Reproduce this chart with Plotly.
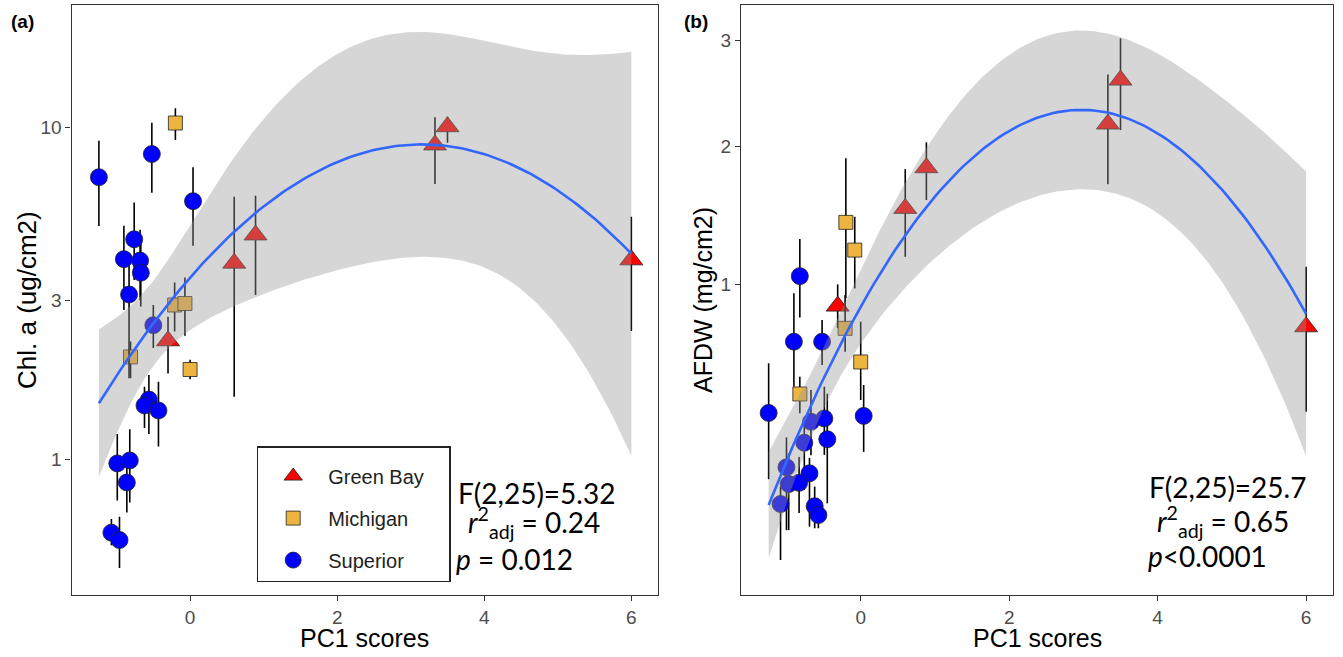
import numpy as np
import plotly.graph_objects as go

# ---------------- data : panel (a)  Chl. a (ug/cm2) ----------------
a_gb_x   = [-0.30, 0.60, 0.89, 3.33, 3.50, 6.00]
a_gb_y   = [2.27, 3.89, 4.73, 8.83, 10.02, 3.98]
a_gb_hi  = [2.68, 6.17, 6.21, 10.70, 10.74, 5.37]
a_gb_lo  = [1.81, 1.54, 3.12, 6.73, 8.97, 2.43]

a_mi_x   = [-0.20, -0.21, -0.07, -0.81, 0.00]
a_mi_y   = [10.28, 2.91, 2.94, 2.03, 1.86]
a_mi_hi  = [11.39, 3.40, 3.52, 2.26, 1.99]
a_mi_lo  = [9.14, 2.42, 2.35, 1.75, 1.74]

a_su_x   = [-1.24, -0.52, 0.04, -0.76, -0.90, -0.68, -0.67, -0.83, -0.50,
            -0.56, -0.62, -0.43, -0.99, -0.82, -0.86, -1.07, -0.96]
a_su_y   = [7.06, 8.29, 5.98, 4.59, 4.00, 3.96, 3.64, 3.13, 2.53,
            1.51, 1.45, 1.40, 0.97, 0.99, 0.85, 0.60, 0.57]
a_su_hi  = [9.09, 10.30, 7.56, 5.92, 5.04, 4.90, 4.57, 3.92, 2.91,
            1.79, 1.65, 1.71, 1.19, 1.23, 0.99, 0.66, 0.67]
a_su_lo  = [5.03, 6.34, 4.39, 3.46, 2.81, 3.01, 2.88, 1.75, 2.16,
            1.19, 1.24, 1.09, 0.75, 0.74, 0.69, 0.55, 0.47]

# ---------------- data : panel (b)  AFDW (mg/cm2) ----------------
b_gb_x   = [-0.31, 0.60, 0.885, 3.33, 3.50, 6.00]
b_gb_y   = [0.875, 1.508, 1.822, 2.192, 2.599, 0.763]
b_gb_hi  = [1.001, 1.811, 2.033, 2.654, 3.017, 1.109]
b_gb_lo  = [0.757, 1.173, 1.570, 1.690, 2.139, 0.383]

b_mi_x   = [-0.20, -0.08, -0.21, 0.00, -0.82]
b_mi_y   = [1.407, 1.217, 0.755, 0.590, 0.452]
b_mi_hi  = [1.899, 1.447, 0.938, 0.790, 0.524]
b_mi_lo  = [0.919, 0.977, 0.638, 0.428, 0.378]

b_su_x   = [-1.24, -0.82, -0.90, -0.52, -0.67, -0.49, 0.04, -0.76,
            -0.45, -1.00, -0.69, -0.97, -0.83, -1.08, -0.62, -0.57]
b_su_y   = [0.379, 1.051, 0.687, 0.687, 0.347, 0.359, 0.368, 0.277,
            0.288, 0.205, 0.189, 0.162, 0.165, 0.1175, 0.113, 0.096]
b_su_hi  = [0.584, 1.291, 0.948, 0.799, 0.468, 0.482, 0.489, 0.361,
            0.453, 0.294, 0.231, 0.245, 0.234, 0.156, 0.156, 0.126]
b_su_lo  = [0.174, 0.813, 0.482, 0.576, 0.239, 0.240, 0.249, 0.148,
            0.119, 0.070, 0.0756, 0.070, 0.0998, 0.0307, 0.073, 0.073]

x_ticks = [0, 2, 4, 6]
a_y_ticks = [1, 3, 10]
b_y_ticks = [1, 2, 3]

groups = ["Green Bay", "Michigan", "Superior"]
colors = {"Green Bay": "#FF0000", "Michigan": "#EDB440", "Superior": "#0000FF"}
symbols = {"Green Bay": "triangle-up", "Michigan": "square", "Superior": "circle"}
sizes = {"Green Bay": 20, "Michigan": 14, "Superior": 17}

AX_FONT = "Liberation Sans, Arial, sans-serif"
ANN_FONT = "Lato, Open Sans, sans-serif"


def quad_fit(x, yt, n_pts=120):
    x = np.asarray(x, float)
    yt = np.asarray(yt, float)
    X = np.column_stack([np.ones_like(x), x, x ** 2])
    beta, *_ = np.linalg.lstsq(X, yt, rcond=None)
    res = yt - X @ beta
    dof = len(x) - 3
    s2 = (res @ res) / dof
    XtXi = np.linalg.inv(X.T @ X)
    xs = np.linspace(x.min(), x.max(), n_pts)
    Xs = np.column_stack([np.ones_like(xs), xs, xs ** 2])
    yh = Xs @ beta
    se = np.sqrt(np.einsum("ij,jk,ik->i", Xs, XtXi, Xs) * s2)
    tq = 2.06
    return xs, yh, yh - tq * se, yh + tq * se


fig = go.Figure()

# ----- panel (a) points -----
a_data = {
    "Green Bay": (a_gb_x, a_gb_y, a_gb_hi, a_gb_lo),
    "Michigan": (a_mi_x, a_mi_y, a_mi_hi, a_mi_lo),
    "Superior": (a_su_x, a_su_y, a_su_hi, a_su_lo),
}
for g in groups:
    x, y, hi, lo = a_data[g]
    y = np.array(y); hi = np.array(hi); lo = np.array(lo)
    fig.add_trace(go.Scatter(
        x=x, y=y, mode="markers", name=g + "\u2003", legendgroup=g, showlegend=True,
        marker=dict(symbol=symbols[g], size=sizes[g], color=colors[g],
                    line=dict(color="#222222", width=0.8)),
        error_y=dict(type="data", symmetric=False, array=hi - y, arrayminus=y - lo,
                     color="black", thickness=1.6, width=0),
        xaxis="x", yaxis="y"))

# ----- panel (b) points (sqrt scale emulated) -----
b_data = {
    "Green Bay": (b_gb_x, b_gb_y, b_gb_hi, b_gb_lo),
    "Michigan": (b_mi_x, b_mi_y, b_mi_hi, b_mi_lo),
    "Superior": (b_su_x, b_su_y, b_su_hi, b_su_lo),
}
for g in groups:
    x, y, hi, lo = b_data[g]
    sy = np.sqrt(y); shi = np.sqrt(hi); slo = np.sqrt(lo)
    fig.add_trace(go.Scatter(
        x=x, y=sy, mode="markers", name=g, legendgroup=g, showlegend=False,
        marker=dict(symbol=symbols[g], size=sizes[g], color=colors[g],
                    line=dict(color="#222222", width=0.8)),
        error_y=dict(type="data", symmetric=False, array=shi - sy, arrayminus=sy - slo,
                     color="black", thickness=1.6, width=0),
        xaxis="x2", yaxis="y2"))

# ----- fits -----
ax_all = np.concatenate([a_gb_x, a_mi_x, a_su_x])
ay_all = np.log10(np.concatenate([a_gb_y, a_mi_y, a_su_y]))
xs, yh, ylo, yhi = quad_fit(ax_all, ay_all)
fig.add_trace(go.Scatter(
    x=np.concatenate([xs, xs[::-1]]), y=10 ** np.concatenate([yhi, ylo[::-1]]),
    fill="toself", fillcolor="rgba(153,153,153,0.4)", line=dict(width=0),
    mode="lines", showlegend=False, hoverinfo="skip", xaxis="x", yaxis="y"))
fig.add_trace(go.Scatter(x=xs, y=10 ** yh, mode="lines", line=dict(color="#3366FF", width=2.6),
                         showlegend=False, xaxis="x", yaxis="y"))

bx_all = np.concatenate([b_gb_x, b_mi_x, b_su_x])
by_all = np.sqrt(np.concatenate([b_gb_y, b_mi_y, b_su_y]))
xs, yh, ylo, yhi = quad_fit(bx_all, by_all)
fig.add_trace(go.Scatter(
    x=np.concatenate([xs, xs[::-1]]), y=np.concatenate([yhi, ylo[::-1]]),
    fill="toself", fillcolor="rgba(153,153,153,0.4)", line=dict(width=0),
    mode="lines", showlegend=False, hoverinfo="skip", xaxis="x2", yaxis="y2"))
fig.add_trace(go.Scatter(x=xs, y=yh, mode="lines", line=dict(color="#3366FF", width=2.6),
                         showlegend=False, xaxis="x2", yaxis="y2"))

W, H = 1343, 657
def px(xp): return xp / W
def py(yp): return 1 - yp / H

axis_common = dict(showline=True, mirror=True, linecolor="#333333", linewidth=1.2,
                   ticks="outside", ticklen=5, tickwidth=1.1, tickcolor="#333333",
                   showgrid=False, zeroline=False,
                   tickfont=dict(family=AX_FONT, size=19, color="#4D4D4D"))

xr = [-1.6125, 6.3625]
fig.update_layout(
    width=W, height=H, margin=dict(l=0, r=0, t=0, b=0),
    paper_bgcolor="white", plot_bgcolor="white",
    xaxis=dict(domain=[px(71.5), px(658)], range=xr, tickvals=x_ticks, anchor="y", **axis_common),
    yaxis=dict(domain=[py(595), py(5)], type="log", range=[-0.4096, 1.3675],
               tickvals=a_y_ticks, ticktext=[str(v) for v in a_y_ticks], anchor="x", **axis_common),
    xaxis2=dict(domain=[px(741), px(1333)], range=xr, tickvals=x_ticks, anchor="y2", **axis_common),
    yaxis2=dict(domain=[py(595), py(5)], range=[0.0704, 1.837],
                tickvals=[np.sqrt(v) for v in b_y_ticks], ticktext=[str(v) for v in b_y_ticks],
                anchor="x2", **axis_common),
    legend=dict(x=px(256.7), y=py(446), xanchor="left", yanchor="top",
                bordercolor="#222222", borderwidth=1.5, bgcolor="white",
                font=dict(family=AX_FONT, size=20, color="#222222"),
                title=dict(text=" ", font=dict(size=7)),
                tracegroupgap=13, itemsizing="trace", itemwidth=60),
    showlegend=True,
)

ann = []
def add_text(xp, yp, text, size, family, xanchor="left", color="black", textangle=0):
    ann.append(dict(x=px(xp), y=py(yp), xref="paper", yref="paper", text=text, showarrow=False,
                    xanchor=xanchor, yanchor="middle", textangle=textangle,
                    font=dict(family=family, size=size, color=color)))

add_text(364.75, 638, "PC1 scores", 25, AX_FONT, "center")
add_text(1037, 638, "PC1 scores", 25, AX_FONT, "center")
add_text(27, 300, "Chl. a (ug/cm2)", 26, AX_FONT, "center", textangle=-90)
add_text(703, 300, "AFDW (mg/cm2)", 25, AX_FONT, "center", textangle=-90)
add_text(9, 21, "<b>(a)</b>", 19, AX_FONT)
add_text(682, 21, "<b>(b)</b>", 19, AX_FONT)

add_text(456, 493, "F(2,25)=5.32", 28, ANN_FONT)
add_text(466, 522, "<i>r</i><sup>2</sup><sub>adj</sub> = 0.24", 28, ANN_FONT)
add_text(454, 559, "<i>p</i> = 0.012", 28, ANN_FONT)
add_text(1147, 487, "F(2,25)=25.7", 28, ANN_FONT)
add_text(1155, 521, "<i>r</i><sup>2</sup><sub>adj</sub> = 0.65", 28, ANN_FONT)
add_text(1146, 556, "<i>p</i><0.0001", 28, ANN_FONT)

fig.update_layout(annotations=ann)
fig.write_html("out.html")
